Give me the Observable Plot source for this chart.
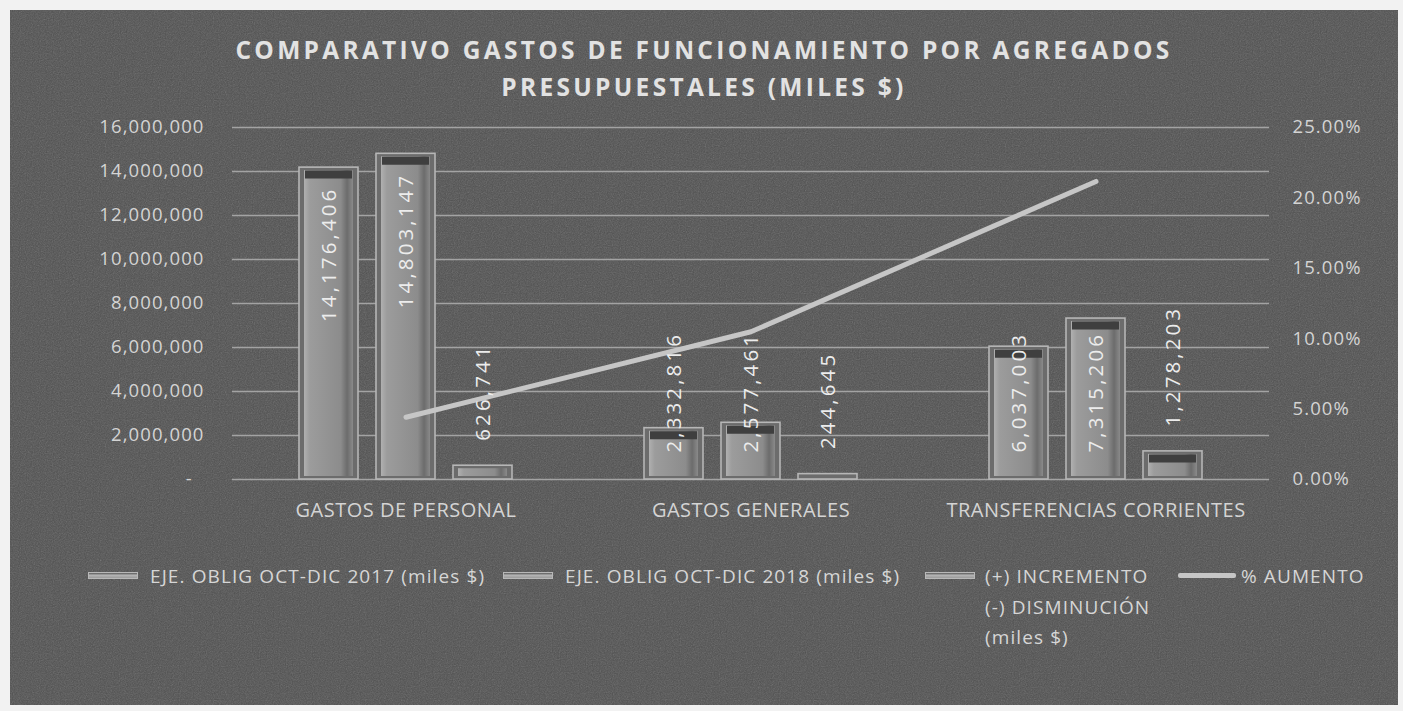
<!DOCTYPE html>
<html>
<head>
<meta charset="utf-8">
<script src="https://cdn.jsdelivr.net/npm/d3@7"></script>
<script src="https://cdn.jsdelivr.net/npm/@observablehq/plot@0.6"></script>
<style>
  html, body { margin: 0; padding: 0; background: #f2f2f2; }
  #panel {
    position: absolute; left: 10px; top: 10px; width: 1388px; height: 695px;
    background-color: #4f4f4f;
    background-image: url("data:image/svg+xml;utf8,<svg xmlns='http://www.w3.org/2000/svg' width='300' height='300'><filter id='n'><feTurbulence type='fractalNoise' baseFrequency='0.85' numOctaves='2' stitchTiles='stitch'/><feColorMatrix type='saturate' values='0'/></filter><rect width='300' height='300' filter='url(%23n)' opacity='0.28'/></svg>");
    font-family: "Open Sans", sans-serif;
    overflow: hidden;
  }
  #title {
    position: absolute; left: 0; top: 21px; width: 1388px; text-align: center;
    color: #e2e2e2; font-weight: 700; font-size: 24.5px; line-height: 37px; letter-spacing: 3.3px;
  }
  #chart { position: absolute; left: 0; top: 96px; }
  #legend { position: absolute; left: 0; top: 550px; width: 1388px; height: 120px; color: #d6d6d6; font-size: 19px; letter-spacing: 1.1px; }
  .lg-sw { position: absolute; top: 12px; width: 50px; height: 7px;
    background: linear-gradient(#5a5a5a, #b4b4b4 45%, #9a9a9a); border: 1px solid #b8b8b8; box-sizing: border-box; }
  .lg-line { position: absolute; top: 13px; width: 58px; height: 5px; background: #c6c6c6; border-radius: 2px; }
  .lg-tx { position: absolute; top: 1px; line-height: 30.5px; white-space: nowrap; }
</style>
</head>
<body>
<div id="panel">
  <div id="title">COMPARATIVO GASTOS DE FUNCIONAMIENTO POR AGREGADOS<br>PRESUPUESTALES (MILES $)</div>
  <div id="chart"></div>
  <div id="legend"></div>
</div>
<script>
// ---- data ----
const categories = ["GASTOS DE PERSONAL", "GASTOS GENERALES", "TRANSFERENCIAS CORRIENTES"];
const oblig2017 = [14176406, 2332816, 6037003];
const oblig2018 = [14803147, 2577461, 7315206];
const incremento = [626741, 244645, 1278203];
const pctAumento = [0.0442, 0.1049, 0.2117];
const leftTicks = [0, 2000000, 4000000, 6000000, 8000000, 10000000, 12000000, 14000000, 16000000];
const rightTicks = [0, 0.05, 0.10, 0.15, 0.20, 0.25];
const seriesNames = ["EJE. OBLIG OCT-DIC 2017 (miles $)", "EJE. OBLIG OCT-DIC 2018 (miles $)", "(+) INCREMENTO\n(-) DISMINUCIÓN\n(miles $)", "% AUMENTO"];

// ---- build ----
const yMax = 16000000, pMax = 0.25;
const toLeft = p => p / pMax * yMax;
const fmt = d3.format(",");
const rows = categories.map((c, i) => ({cat: c, v17: oblig2017[i], v18: oblig2018[i], inc: incremento[i], pct: pctAumento[i]}));

const series = [
  {key: "v17", dx: -77},
  {key: "v18", dx: 0},
  {key: "inc", dx: 77}
];
const IN = 143;

const marks = [
  Plot.ruleY(leftTicks, {stroke: "#a3a3a3", strokeWidth: 1.6}),
  Plot.axisY(leftTicks, {anchor: "left", tickSize: 0, tickPadding: 28, fontSize: 18.5, label: null,
    tickFormat: d => d === 0 ? "-\u00a0\u00a0" : fmt(d)}),
  Plot.axisY(rightTicks.map(toLeft), {anchor: "right", tickSize: 0, tickPadding: 23, fontSize: 18.5, label: null,
    tickFormat: d => (d / yMax * pMax * 100).toFixed(2) + "%"}),
  Plot.axisX(categories, {anchor: "bottom", tickSize: 0, tickPadding: 23, fontSize: 20, label: null})
];

for (const s of series) {
  marks.push(Plot.barY(rows, {x: "cat", y: s.key, dx: s.dx, insetLeft: IN, insetRight: IN,
    fill: "#6c6c6c", stroke: "#b6b6b6", strokeWidth: 1.6}));
  marks.push(Plot.barY(rows, {x: "cat", y: s.key, dx: s.dx, insetLeft: IN + 5, insetRight: IN + 5,
    insetTop: 3, insetBottom: 3, fill: "url(#faceGrad)"}));
  marks.push(Plot.tickY(rows.filter(r => r[s.key] > 1000000), {x: "cat", y: s.key, dx: s.dx, dy: 7,
    insetLeft: IN + 6, insetRight: IN + 6, stroke: "#3f3f3f", strokeWidth: 8}));
}

marks.push(Plot.line(rows, {x: "cat", y: d => toLeft(d.pct), stroke: "#c6c6c6", strokeWidth: 5, strokeLinecap: "round"}));

// value labels
const LBL = {rotate: -90, fontSize: 20.5, fill: "#ececec"};
for (const s of series.slice(0, 2)) {
  marks.push(Plot.text(rows.filter(r => r[s.key] > 10000000), {x: "cat", y: s.key, dx: s.dx, dy: 19,
    text: d => fmt(d[s.key]), textAnchor: "end", ...LBL}));
  marks.push(Plot.text(rows.filter(r => r[s.key] <= 10000000), {x: "cat", y: d => 0, dx: s.dx, dy: -27,
    text: d => fmt(d[s.key]), textAnchor: "start", ...LBL}));
}
marks.push(Plot.text(rows, {x: "cat", y: "inc", dx: 77, dy: -25,
  text: d => fmt(d.inc), textAnchor: "start", ...LBL}));

const chart = Plot.plot({
  width: 1388, height: 418,
  marginTop: 21, marginBottom: 45, marginLeft: 222, marginRight: 129,
  style: {background: "transparent", color: "#d4d4d4", fontFamily: "Open Sans, sans-serif", overflow: "visible"},
  x: {domain: categories, padding: 0, axis: null},
  y: {domain: [0, yMax], axis: null},
  marks
});

const svg = d3.select(chart);
svg.selectAll("text").each(function () {
  const t = this.getAttribute("transform") || "";
  if (t.includes("rotate")) this.style.letterSpacing = "3.1px";
});
svg.selectAll('g[aria-label="y-axis tick label"] text').style("letter-spacing", "1.1px");
svg.selectAll('g[aria-label="x-axis tick label"] text').style("letter-spacing", "0.5px");

const defs = svg.insert("defs", ":first-child");
const fg = defs.append("linearGradient").attr("id", "faceGrad").attr("x1", 0).attr("x2", 1).attr("y1", 0).attr("y2", 0);
fg.append("stop").attr("offset", 0).attr("stop-color", "#b0b0b0");
fg.append("stop").attr("offset", 0.12).attr("stop-color", "#9c9c9c");
fg.append("stop").attr("offset", 0.75).attr("stop-color", "#8c8c8c");
fg.append("stop").attr("offset", 0.88).attr("stop-color", "#6c6c6c");
fg.append("stop").attr("offset", 1).attr("stop-color", "#8a8a8a");

document.getElementById("chart").appendChild(chart);

// legend
const lg = document.getElementById("legend");
const pos = [[78, 140], [493, 555], [915, 975], [1168, 1231]];
seriesNames.forEach((name, i) => {
  const sw = document.createElement("div");
  sw.className = i === 3 ? "lg-line" : "lg-sw";
  sw.style.left = pos[i][0] + "px";
  lg.appendChild(sw);
  const tx = document.createElement("div");
  tx.className = "lg-tx";
  tx.style.left = pos[i][1] + "px";
  tx.innerHTML = name.split("\n").join("<br>");
  lg.appendChild(tx);
});
</script>
</body>
</html>
